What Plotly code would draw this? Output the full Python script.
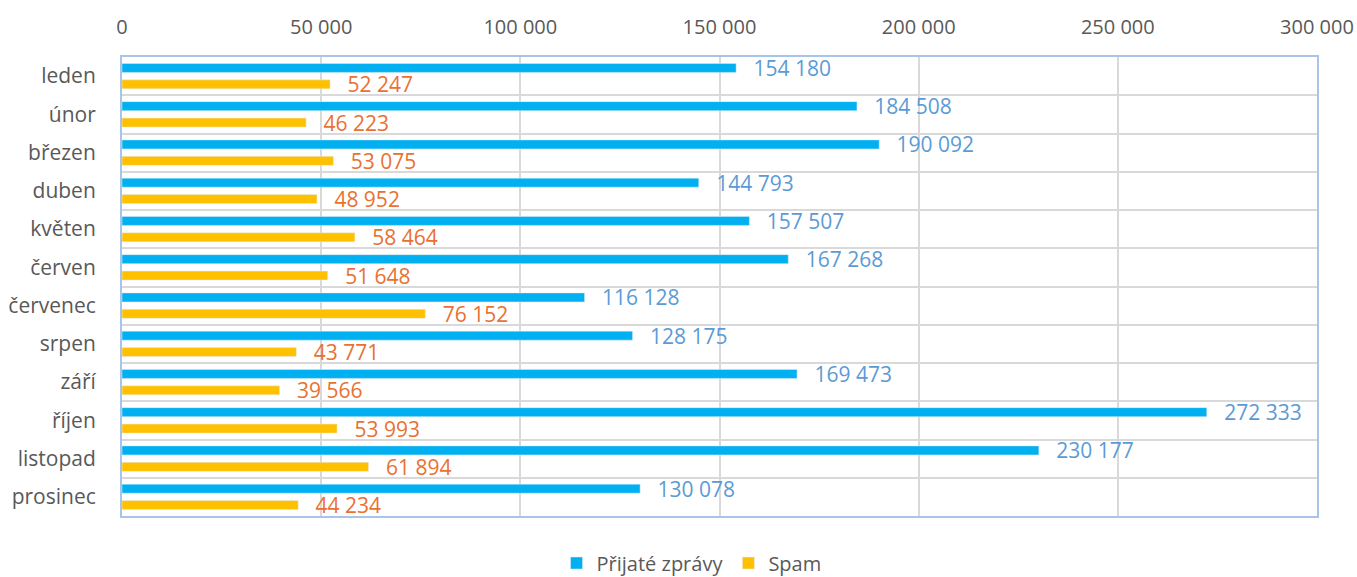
import plotly.graph_objects as go

months = ["leden", "únor", "březen", "duben", "květen", "červen", "červenec",
          "srpen", "září", "říjen", "listopad", "prosinec"]
prijate = [154180, 184508, 190092, 144793, 157507, 167268, 116128,
           128175, 169473, 272333, 230177, 130078]
spam = [52247, 46223, 53075, 48952, 58464, 51648, 76152,
        43771, 39566, 53993, 61894, 44234]
x_ticks = [0, 50000, 100000, 150000, 200000, 250000, 300000]

FONT = "Open Sans"
LABEL_SIZE = 21
PAD = "\u00a0\u00a0\u2009"
fig = go.Figure()
fig.add_trace(go.Bar(
    y=months, x=prijate, orientation="h", name="Přijaté zprávy",
    marker_color="#00B0F0",
    texttemplate=PAD + "%{x:,}", textposition="outside",
    textfont=dict(color="#5B9BD5", size=LABEL_SIZE, family=FONT),
    cliponaxis=False,
))
fig.add_trace(go.Bar(
    y=months, x=spam, orientation="h", name="Spam",
    marker_color="#FFC000",
    texttemplate=PAD + "%{x:,}", textposition="outside",
    textfont=dict(color="#E97132", size=LABEL_SIZE, family=FONT),
    cliponaxis=False,
))

fig.update_layout(
    width=1357, height=577,
    margin=dict(l=122, r=40, t=57, b=61, autoexpand=False),
    paper_bgcolor="white", plot_bgcolor="white",
    separators=". ",
    barmode="group", bargap=0.14, bargroupgap=0.45,
    font=dict(family=FONT, size=20, color="#595959"),
    showlegend=True,
    legend=dict(orientation="h", x=0.4766, xanchor="center", y=-0.1024, yanchor="middle",
                font=dict(size=20, color="#595959"), itemwidth=30,
                traceorder="normal"),
    uniformtext=dict(minsize=LABEL_SIZE, mode="show"),
)
fig.update_xaxes(
    side="top", range=[0, 300000], tickvals=x_ticks,
    tickformat=",", showgrid=True, gridcolor="#D9D9D9", gridwidth=1.5,
    zeroline=False, showline=True, linecolor="#A9C4EB", linewidth=2, mirror=True,
    ticks="", ticklabelstandoff=13, automargin=False,
    tickfont=dict(size=20, color="#595959"),
)
fig.update_yaxes(
    type="category", autorange="reversed", tickson="boundaries",
    showgrid=True, gridcolor="#D9D9D9", gridwidth=1.5,
    showline=True, linecolor="#A9C4EB", linewidth=2, mirror=True,
    ticks="", ticklabelstandoff=20, automargin=False,
    tickfont=dict(size=21, color="#595959"),
)

fig.write_html(
    "out.html",
    config={"displayModeBar": False},
    post_script="document.body.style.margin='0';document.body.style.overflow='hidden';",
)
